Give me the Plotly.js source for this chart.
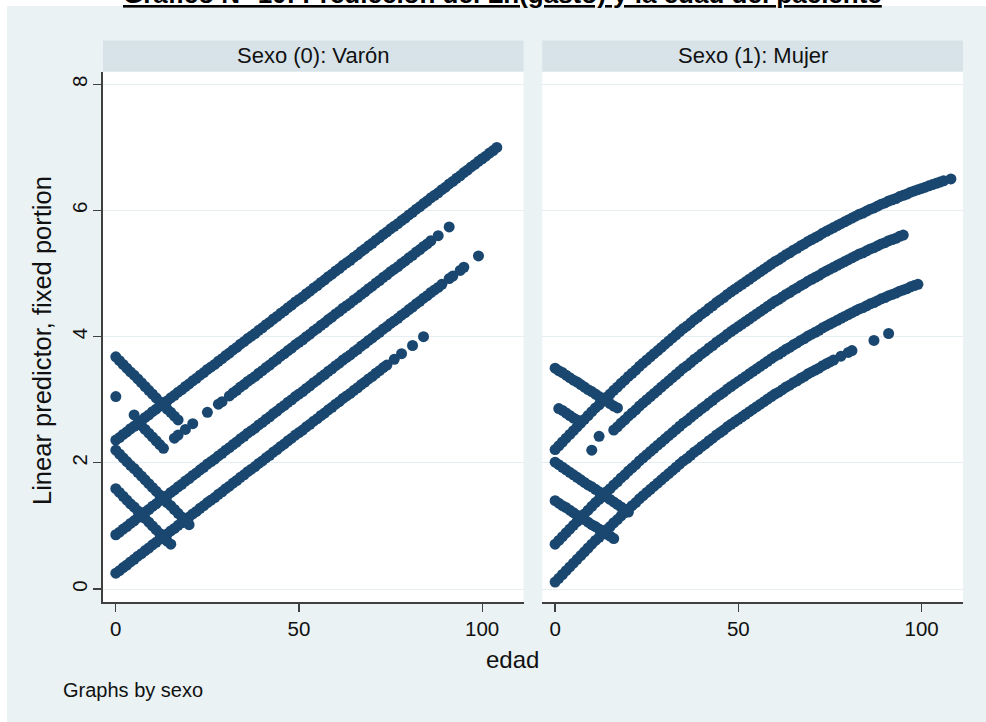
<!DOCTYPE html>
<html><head><meta charset="utf-8">
<script src="https://cdn.plot.ly/plotly-3.0.1.min.js"></script>
<style>html,body{margin:0;padding:0;background:#fff}</style>
</head><body><div id="chart" style="width:986px;height:722px"></div>
<script>
// edad (años) – eje X común
const edad = [0,1,2,3,4,5,6,7,8,9,10,11,12,13,14,15,16,17,18,19,20,21,22,23,24,25,26,27,28,29,
30,31,32,33,34,35,36,37,38,39,40,41,42,43,44,45,46,47,48,49,50,51,52,53,54,55,56,57,58,59,
60,61,62,63,64,65,66,67,68,69,70,71,72,73,74,75,76,77,78,79,80,81,82,83,84,85,86,87,88,89,
90,91,92,93,94,95,96,97,98,99,100,101,102,103,104,105,106,107,108];

// Panel Sexo (0): Varón – predicción lineal por edad
const varonA = [2.36,2.40,2.45,2.49,2.54,2.58,2.63,2.67,2.72,2.76,
2.81,2.85,2.90,2.94,2.98,3.03,3.07,3.12,3.16,3.21,
3.25,3.30,3.34,3.39,3.43,3.48,3.52,3.56,3.61,3.65,
3.70,3.74,3.79,3.83,3.88,3.92,3.97,4.01,4.05,4.10,
4.14,4.19,4.23,4.28,4.32,4.37,4.41,4.46,4.50,4.55,
4.59,4.63,4.68,4.72,4.77,4.81,4.86,4.90,4.95,4.99,
5.04,5.08,5.13,5.17,5.21,5.26,5.30,5.35,5.39,5.44,
5.48,5.53,5.57,5.62,5.66,5.71,5.75,5.79,5.84,5.88,
5.93,5.97,6.02,6.06,6.11,6.15,6.20,6.24,6.28,6.33,
6.37,6.42,6.46,6.51,6.55,6.60,6.64,6.69,6.73,6.78,
6.82,6.86,6.91,6.95,7.00];
const varonB = [null,null,null,null,null,null,null,null,null,null,
null,null,null,null,null,null,2.39,2.44,null,2.53,
null,2.62,null,null,null,2.80,null,null,2.93,2.97,
null,3.06,3.11,3.15,3.20,3.24,3.29,3.33,3.37,3.42,
3.46,3.51,3.55,3.60,3.64,3.69,3.73,3.78,3.82,3.87,
3.91,3.95,4.00,4.04,4.09,4.13,4.18,4.22,4.27,4.31,
4.36,4.40,4.45,4.49,4.53,4.58,4.62,4.67,4.71,4.76,
4.80,4.85,4.89,4.94,4.98,5.03,5.07,5.11,5.16,5.20,
5.25,5.29,5.34,5.38,5.43,5.47,5.52,null,5.60,null,
null,5.74];
const varonC = [0.86,0.90,0.95,0.99,1.04,1.08,1.13,1.17,1.22,1.26,
1.31,1.35,1.40,1.44,1.48,1.53,1.57,1.62,1.66,1.71,
1.75,1.80,1.84,1.89,1.93,1.98,2.02,2.06,2.11,2.15,
2.20,2.24,2.29,2.33,2.38,2.42,2.47,2.51,2.55,2.60,
2.64,2.69,2.73,2.78,2.82,2.87,2.91,2.96,3.00,3.05,
3.09,3.13,3.18,3.22,3.27,3.31,3.36,3.40,3.45,3.49,
3.54,3.58,3.63,3.67,3.71,3.76,3.80,3.85,3.89,3.94,
3.98,4.03,4.07,4.12,4.16,4.21,4.25,4.29,4.34,4.38,
4.43,4.47,4.52,4.56,4.61,4.65,4.70,4.74,4.78,4.83,
null,4.92,4.96,null,5.05,5.10,null,null,null,5.28];
const varonD = [0.25,0.29,0.34,0.38,0.43,0.47,0.52,0.56,0.61,0.65,
0.70,0.74,0.79,0.83,0.87,0.92,0.96,1.01,1.05,1.10,
1.14,1.19,1.23,1.28,1.32,1.37,1.41,1.45,1.50,1.54,
1.59,1.63,1.68,1.72,1.77,1.81,1.86,1.90,1.94,1.99,
2.03,2.08,2.12,2.17,2.21,2.26,2.30,2.35,2.39,2.44,
2.48,2.52,2.57,2.61,2.66,2.70,2.75,2.79,2.84,2.88,
2.93,2.97,3.02,3.06,3.10,3.15,3.19,3.24,3.28,3.33,
3.37,3.42,3.46,3.51,3.55,null,3.64,null,3.73,null,
null,3.86,null,null,4.00];
const varonDiag1 = [3.68,3.62,3.56,3.50,3.44,3.39,3.33,3.27,3.21,3.15,3.09,3.03,2.97,2.91,2.85,2.80,2.74,2.68];
const varonDiag2 = [3.05,null,null,null,null,2.76,null,2.59,2.53,2.47,2.41,2.35,2.29,2.23];
const varonDiag3 = [2.20,2.14,2.08,2.02,1.96,1.91,1.85,1.79,1.73,1.67,1.61,1.55,1.49,1.43,1.37,1.32,1.26,1.20,1.14,1.08,1.02];
const varonDiag4 = [1.59,1.53,1.47,1.41,1.35,1.30,1.24,1.18,1.12,1.06,1.00,0.94,0.88,0.82,0.76,0.71];

// Panel Sexo (1): Mujer
const mujerA = [2.21,2.27,2.33,2.39,2.45,2.51,2.57,2.63,2.69,2.75,
2.81,2.87,2.92,2.98,3.04,3.09,3.15,3.20,3.26,3.31,
3.37,3.42,3.47,3.53,3.58,3.63,3.68,3.73,3.78,3.83,
3.88,3.93,3.98,4.03,4.08,4.13,4.17,4.22,4.27,4.31,
4.36,4.40,4.45,4.49,4.54,4.58,4.62,4.67,4.71,4.75,
4.79,4.83,4.87,4.91,4.95,4.99,5.03,5.07,5.11,5.15,
5.19,5.22,5.26,5.30,5.33,5.37,5.40,5.44,5.47,5.51,
5.54,5.57,5.60,5.64,5.67,5.70,5.73,5.76,5.79,5.82,
5.85,5.88,5.91,5.94,5.96,5.99,6.02,6.04,6.07,6.10,
6.12,6.15,6.17,6.19,6.22,6.24,6.26,6.29,6.31,6.33,
6.35,6.37,6.39,6.41,6.43,6.45,6.47,null,6.50];
const mujerB = [null,null,null,null,null,null,null,null,null,null,
2.20,null,2.42,null,null,null,2.52,2.57,2.63,2.68,
2.74,2.79,2.84,2.90,2.95,3.00,3.05,3.10,3.15,3.20,
3.25,3.30,3.35,3.40,3.45,3.50,3.54,3.59,3.64,3.68,
3.73,3.77,3.82,3.86,3.91,3.95,3.99,4.04,4.08,4.12,
4.16,4.20,4.24,4.28,4.32,4.36,4.40,4.44,4.48,4.52,
4.56,4.59,4.63,4.67,4.70,4.74,4.77,4.81,4.84,4.88,
4.91,4.94,4.97,5.01,5.04,5.07,5.10,5.13,5.16,5.19,
5.22,5.25,5.28,5.31,5.33,5.36,5.39,5.41,5.44,5.47,
5.49,5.52,5.54,5.56,5.59,5.61];
const mujerC = [0.71,0.77,0.83,0.89,0.95,1.01,1.07,1.13,1.19,1.25,
1.31,1.37,1.42,1.48,1.54,1.59,1.65,1.70,1.76,1.81,
1.87,1.92,1.97,2.03,2.08,2.13,2.18,2.23,2.28,2.33,
2.38,2.43,2.48,2.53,2.58,2.63,2.67,2.72,2.77,2.81,
2.86,2.90,2.95,2.99,3.04,3.08,3.12,3.17,3.21,3.25,
3.29,3.33,3.37,3.41,3.45,3.49,3.53,3.57,3.61,3.65,
3.69,3.72,3.76,3.80,3.83,3.87,3.90,3.94,3.97,4.01,
4.04,4.07,4.10,4.14,4.17,4.20,4.23,4.26,4.29,4.32,
4.35,4.38,4.41,4.44,4.46,4.49,4.52,4.54,4.57,4.60,
4.62,4.65,4.67,4.69,4.72,4.74,4.76,4.79,4.81,4.83];
const mujerD = [0.11,0.17,0.23,0.29,0.35,0.41,0.47,0.53,0.59,0.65,
0.71,0.77,0.82,0.88,0.94,0.99,1.05,1.10,1.16,1.21,
1.27,1.32,1.37,1.43,1.48,1.53,1.58,1.63,1.68,1.73,
1.78,1.83,1.88,1.93,1.98,2.03,2.07,2.12,2.17,2.21,
2.26,2.30,2.35,2.39,2.44,2.48,2.52,2.57,2.61,2.65,
2.69,2.73,2.77,2.81,2.85,2.89,2.93,2.97,3.01,3.05,
3.09,3.12,3.16,3.20,3.23,3.27,3.30,3.34,3.37,3.41,
3.44,3.47,3.50,3.54,3.57,3.60,3.63,null,3.69,null,
3.75,3.78,null,null,null,null,null,3.94,null,null,
null,4.05];
const mujerDiag1 = [3.50,3.46,3.43,3.39,3.35,3.31,3.28,3.24,3.20,3.16,3.13,3.09,3.05,3.02,2.98,2.94,2.90,2.87];
const mujerDiag2 = [null,2.86,2.83,2.79,2.75,2.71,2.68];
const mujerDiag3 = [2.01,1.97,1.93,1.89,1.85,1.81,1.77,1.73,1.69,1.65,1.62,1.58,1.54,1.50,1.46,1.42,1.38,1.34,1.30,1.26,1.22];
const mujerDiag4 = [1.40,1.36,1.32,1.29,1.25,1.21,1.17,1.14,1.10,1.06,1.02,0.99,0.95,0.91,0.87,0.84,0.80];

const xTicks = [0, 50, 100];
const yTicks = [0, 2, 4, 6, 8];
const panelTitles = ['Sexo (0): Varón', 'Sexo (1): Mujer'];

const FONT = '"Liberation Sans", Arial, Helvetica, sans-serif';
const NAVY = '#1a476f';

function serie(y, xa, ya) {
  return {type:'scatter', mode:'markers', x: edad.slice(0, y.length), y: y, xaxis: xa, yaxis: ya,
    marker:{color:NAVY, size:11, line:{width:0}}, showlegend:false, hoverinfo:'skip', cliponaxis:true};
}

const data = [
  ...[varonA, varonB, varonC, varonD, varonDiag1, varonDiag2, varonDiag3, varonDiag4].map(s => serie(s, 'x', 'y')),
  ...[mujerA, mujerB, mujerC, mujerD, mujerDiag1, mujerDiag2, mujerDiag3, mujerDiag4].map(s => serie(s, 'x2', 'y2'))
];

const axisX = {
  range:[-3.5, 111.3], tickvals:xTicks, ticktext:xTicks.map(String), ticks:'outside', ticklen:8, tickwidth:1.3,
  tickcolor:'#404040', showline:true, linecolor:'#404040', linewidth:1.6, showgrid:false, zeroline:false,
  tickfont:{family:FONT, size:20.5, color:'#111'}, fixedrange:true
};
const gridColor = '#e6eef1';

const layout = {
  width:986, height:722,
  margin:{l:103, r:23, t:72, b:120, pad:0},
  paper_bgcolor:'#eaf2f3', plot_bgcolor:'#ffffff',
  font:{family:FONT, color:'#111'},
  showlegend:false,
  xaxis: Object.assign({}, axisX, {domain:[0, 0.489], anchor:'y'}),
  xaxis2: Object.assign({}, axisX, {domain:[0.5108, 1], anchor:'y2'}),
  yaxis: {domain:[0,1], range:[-0.206, 8.195], tickvals:yTicks, ticktext:yTicks.map(String), tickangle:-90,
    ticks:'outside', ticklen:8, tickwidth:1.3, tickcolor:'#404040', showline:true, linecolor:'#404040', linewidth:1.6,
    showgrid:true, gridcolor:gridColor, gridwidth:1, zeroline:false, ticklabelstandoff:-2,
    tickfont:{family:FONT, size:20.5, color:'#111'}, anchor:'x', fixedrange:true},
  yaxis2: {domain:[0,1], range:[-0.206, 8.195], tickvals:yTicks, showticklabels:false, ticks:'', showline:false,
    showgrid:true, gridcolor:gridColor, gridwidth:1, zeroline:false, anchor:'x2', fixedrange:true},
  shapes: [
    {type:'rect', xref:'paper', yref:'paper', x0:-0.2, x1:-0.1116, y0:-0.5, y1:1.5, fillcolor:'#ffffff', line:{width:0}, layer:'below'},
    {type:'rect', xref:'paper', yref:'paper', x0:-0.2, x1:1.2, y0:1.1245, y1:1.5, fillcolor:'#ffffff', line:{width:0}, layer:'below'},
    {type:'rect', xref:'x domain', yref:'paper', x0:0, x1:1, y0:1.0009, y1:1.0594, fillcolor:'#d7e3e9', line:{width:0}, layer:'below'},
    {type:'rect', xref:'x2 domain', yref:'paper', x0:0, x1:1, y0:1.0009, y1:1.0594, fillcolor:'#d7e3e9', line:{width:0}, layer:'below'}
  ],
  annotations: [
    {text:'<b><u>Gráfico N° 10: Predicción del Ln(gasto) y la edad del paciente</u></b>', xref:'paper', yref:'paper',
      x:0.4645, y:1.1151, xanchor:'center', yanchor:'bottom', showarrow:false, font:{family:FONT, size:26, color:'#000'}},
    {text:panelTitles[0], xref:'x domain', yref:'paper', x:0.5, y:1.0302, xanchor:'center', yanchor:'middle', showarrow:false,
      font:{family:FONT, size:22, color:'#111'}},
    {text:panelTitles[1], xref:'x2 domain', yref:'paper', x:0.5, y:1.0302, xanchor:'center', yanchor:'middle', showarrow:false,
      font:{family:FONT, size:22, color:'#111'}},
    {text:'Linear predictor, fixed portion', textangle:-90, xref:'paper', yref:'paper', x:-0.0709, y:0.4925,
      xanchor:'center', yanchor:'middle', showarrow:false, font:{family:FONT, size:25.5, color:'#111'}},
    {text:'edad', xref:'paper', yref:'paper', x:0.4756, y:-0.1094, xanchor:'center', yanchor:'middle', showarrow:false,
      font:{family:FONT, size:24, color:'#111'}},
    {text:'Graphs by sexo', xref:'paper', yref:'paper', x:-0.0488, y:-0.166, xanchor:'left', yanchor:'middle', showarrow:false,
      font:{family:FONT, size:20, color:'#111'}}
  ]
};

Plotly.newPlot('chart', data, layout, {displayModeBar:false, staticPlot:true});
</script>
</body></html>
